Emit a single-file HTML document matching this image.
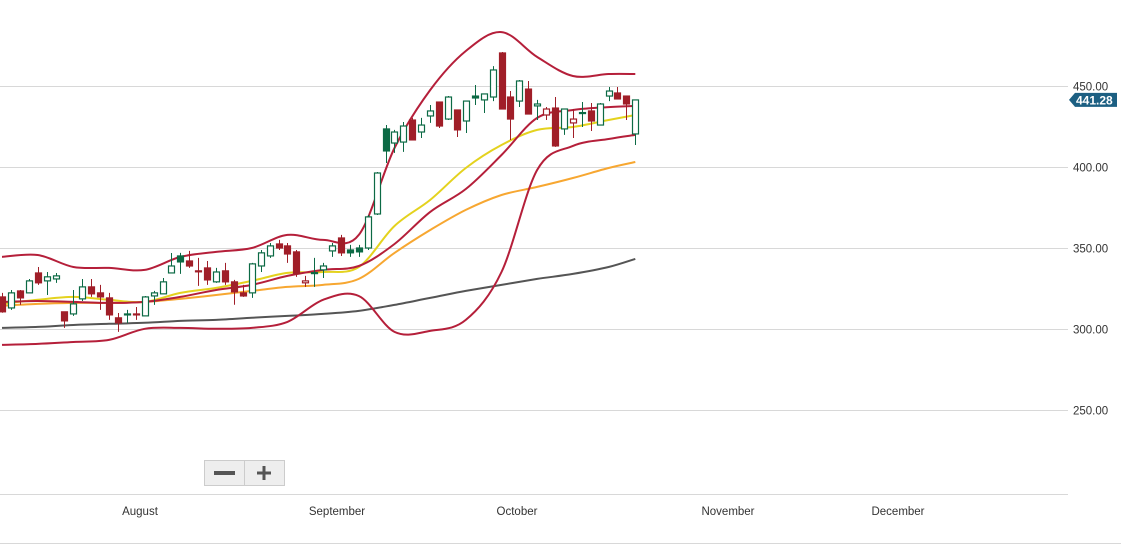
<!DOCTYPE html>
<html><head><meta charset="utf-8"><style>
html,body{margin:0;padding:0;background:#fff;width:1121px;height:554px;overflow:hidden;font-family:"Liberation Sans",sans-serif;}
svg{display:block}
</style></head><body>
<svg id="chart" width="1121" height="554" xmlns="http://www.w3.org/2000/svg">
<g id="grid"></g>
<g id="lines"></g>
<g id="candles"></g>
<g id="axes"></g>
<g>
 <g>
  <rect x="204.5" y="460.5" width="40" height="25" fill="#eee" stroke="#ccc"/>
  <rect x="214" y="471" width="21" height="4" fill="#555"/>
 </g>
 <g>
  <rect x="244.5" y="460.5" width="40" height="25" fill="#eee" stroke="#ccc"/>
  <rect x="257" y="471.5" width="14" height="3" fill="#555"/>
  <rect x="262.5" y="466" width="3" height="14" fill="#555"/>
 </g>
</g>
</svg>
<script>
const open_ = [319.8,313.0,323.5,322.3,334.6,329.7,330.9,310.6,309.3,318.6,326.0,322.3,319.2,306.9,308.7,309.3,308.1,320.4,321.7,334.6,341.4,342.0,335.9,337.7,329.1,335.9,329.1,322.3,322.3,338.9,345.1,352.5,351.3,347.6,329.7,334.6,336.5,348.2,356.2,347.0,347.6,350.0,371.0,409.9,414.8,415.4,429.0,421.6,431.5,440.1,429.6,435.2,428.4,442.6,441.4,443.2,470.4,443.2,440.7,448.1,437.7,435.8,436.4,423.5,429.6,433.3,434.6,425.9,443.8,445.7,443.8,420.4];
const high = [322.3,324.1,324.1,330.9,338.3,335.2,334.6,310.6,324.1,330.9,330.9,327.2,322.3,309.9,311.8,313.6,320.4,323.5,331.5,346.9,347.0,348.2,343.9,342.0,337.7,340.8,330.3,327.2,340.8,348.8,353.1,355.0,353.1,348.8,332.8,343.9,340.8,353.1,358.1,351.9,351.9,370.4,396.9,425.9,422.9,427.8,430.3,430.3,438.3,440.1,443.8,435.2,440.7,450.6,445.1,462.3,471.0,446.9,453.7,453.1,441.4,437.0,443.2,435.8,435.8,440.1,439.5,439.5,449.4,449.4,443.8,441.4];
const low = [310.0,311.8,314.9,322.3,327.2,321.0,328.5,300.7,308.1,317.3,319.8,311.8,305.6,298.2,303.8,305.6,308.1,314.9,321.7,334.6,334.0,337.7,326.6,327.2,328.5,327.2,315.0,319.8,319.2,335.2,343.9,348.8,340.8,332.2,326.0,326.0,331.5,344.5,345.1,344.5,344.5,348.8,370.4,402.5,408.7,409.3,416.7,417.9,427.2,424.1,429.0,418.5,421.0,438.3,433.3,440.7,435.8,416.7,437.0,432.7,429.0,429.0,412.4,419.8,417.9,424.7,422.2,425.9,440.7,442.0,429.0,413.6];
const close_ = [310.6,322.3,319.2,329.7,328.5,332.2,332.8,305.0,315.5,326.0,321.7,319.8,308.7,303.8,309.3,309.0,319.8,322.3,329.1,338.9,345.1,338.9,335.6,330.3,335.2,329.1,322.9,320.4,340.2,347.0,351.3,350.0,346.3,334.0,328.5,334.8,338.9,351.3,347.0,348.8,350.0,369.2,396.3,423.5,421.6,425.3,416.7,425.9,434.6,425.3,443.2,422.9,440.7,443.8,445.1,459.9,435.8,429.6,453.1,432.7,438.9,432.1,413.0,435.8,427.2,433.6,428.4,438.9,446.9,442.0,438.9,441.4];
const styles = ['r','h','r','h','r','h','h','r','h','h','r','r','r','r','g','r','h','h','h','h','g','r','r','r','h','r','r','r','h','h','h','r','r','r','rh','h','h','h','r','g','g','h','h','g','h','h','r','h','h','r','h','r','h','g','h','h','r','r','h','r','h','rh','r','h','rh','h','r','h','h','r','r','h'];
const lineIdx = [0,4,8,12,16,20,24,28,32,36,40,44,48,52,56,60,64,68,71];
const bbUpper = [344.5,345.7,338.3,337.7,336.5,344.5,347.6,350.0,358.1,355.0,358.1,411.7,447.5,471.6,483.3,467.9,456.2,457.4,457.4];
const bbMiddle = [316.7,317.3,316.7,316.1,316.7,319.8,324.1,327.2,332.8,336.5,338.9,352.5,372.3,386.4,407.4,430.3,435.2,437.0,437.7];
const bbLower = [290.2,290.8,292.0,293.3,300.1,300.7,300.1,300.7,304.4,318.0,320.4,298.2,298.8,305.6,335.2,398.2,413.0,417.3,419.8];
const maYellow = [315.5,318.0,319.8,318.0,316.7,322.3,325.4,329.7,334.6,335.2,338.3,363.6,379.7,399.4,413.6,422.9,424.7,429.0,432.1];
const maOrange = [314.3,315.5,316.1,316.1,316.7,318.6,321.0,323.5,326.0,327.2,330.9,347.0,361.1,373.5,382.7,387.7,393.2,399.4,403.1];
const maGray = [300.7,301.3,302.5,303.2,303.8,305.0,305.6,306.9,308.1,309.3,311.2,314.9,319.2,323.5,327.2,330.9,334.0,338.3,343.3];
const yTicks = [250,300,350,400,450];
const months = ['August','September','October','November','December'];
const monthPos = [140,337,517,728,898];
const lastPrice = '441.28';

const NS='http://www.w3.org/2000/svg';
function yScale(p){return 86+(450-p)*1.62;}
function xScale(i){return 2+i*8.92;}
function mk(tag,attrs,parent){const e=document.createElementNS(NS,tag);for(const k in attrs)e.setAttribute(k,attrs[k]);parent.appendChild(e);return e;}
const grid=document.getElementById('grid'),axes=document.getElementById('axes'),lines=document.getElementById('lines'),cg=document.getElementById('candles');
yTicks.forEach(t=>{
 const y=Math.round(yScale(t))+0.5;
 const l=mk('line',{x1:0,x2:1068,y1:y,y2:y,stroke:'#d8d8d8','stroke-width':1},grid);
 
 
 const tx=mk('text',{x:1073,y:y+4,'font-size':11.5,fill:'#333'},axes);
 tx.textContent=t.toFixed(2);
 
 
});
const a1=mk('line',{x1:0,x2:1068,y1:494.5,y2:494.5,stroke:'#d8d8d8'},axes);


const a2=mk('line',{x1:0,x2:1121,y1:543.5,y2:543.5,stroke:'#d8d8d8'},axes);


months.forEach((m,i)=>{
 const t=mk('text',{x:monthPos[i],y:515,'font-size':11.5,fill:'#333','text-anchor':'middle'},axes);
 t.textContent=m;
 
 
});
function drawLine(vals,color,w,name){
 const P=vals.map((v,k)=>[xScale(lineIdx[k]),yScale(v)]);
 let d='M'+P[0][0].toFixed(1)+' '+P[0][1].toFixed(1);
 for(let k=0;k<P.length-1;k++){
  const p0=P[Math.max(0,k-1)],p1=P[k],p2=P[k+1],p3=P[Math.min(P.length-1,k+2)];
  const c1=[p1[0]+(p2[0]-p0[0])/6,p1[1]+(p2[1]-p0[1])/6];
  const c2=[p2[0]-(p3[0]-p1[0])/6,p2[1]-(p3[1]-p1[1])/6];
  d+=' C'+c1[0].toFixed(1)+' '+c1[1].toFixed(1)+' '+c2[0].toFixed(1)+' '+c2[1].toFixed(1)+' '+p2[0].toFixed(1)+' '+p2[1].toFixed(1);
 }
 const p=mk('path',{d:d,fill:'none',stroke:color,'stroke-width':w,'stroke-linejoin':'round'},lines);
 
 
}
drawLine(maGray,'#555',2,'sma-gray-line');
drawLine(maOrange,'#f7a731',2,'sma-orange-line');
drawLine(maYellow,'#e4d21e',2,'sma-yellow-line');
drawLine(bbLower,'#b51f3a',2,'bollinger-lower');
drawLine(bbMiddle,'#b51f3a',2,'bollinger-middle');
drawLine(bbUpper,'#b51f3a',2,'bollinger-upper');
open_.forEach((o,i)=>{
 const x=Math.round(xScale(i))+0.5,s=styles[i];
 const col=(s==='r'||s==='rh')?'#a01e28':'#0c6a45';
 const g=mk('g',{},cg);
 
 
 mk('line',{x1:x,x2:x,y1:yScale(high[i]),y2:yScale(low[i]),stroke:col,'stroke-width':1},g);
 const top=yScale(Math.max(o,close_[i])),bot=yScale(Math.min(o,close_[i]));
 const h=Math.max(1,bot-top);
 const fill=(s==='r'||s==='g')?col:'#fff';
 mk('rect',{x:x-3,y:top,width:6,height:h,fill:fill,stroke:col,'stroke-width':1.2},g);
});
const tag=mk('g',{},axes);


const ly=yScale(close_[close_.length-1]);
mk('path',{d:`M1069 ${ly} L1075 ${ly-7} L1117 ${ly-7} L1117 ${ly+7} L1075 ${ly+7} Z`,fill:'#1c5f82'},tag);
const lt=mk('text',{x:1076,y:ly+4.5,'font-size':12,fill:'#fff','font-weight':'bold'},tag);
lt.textContent=lastPrice;
</script>
</body></html>
